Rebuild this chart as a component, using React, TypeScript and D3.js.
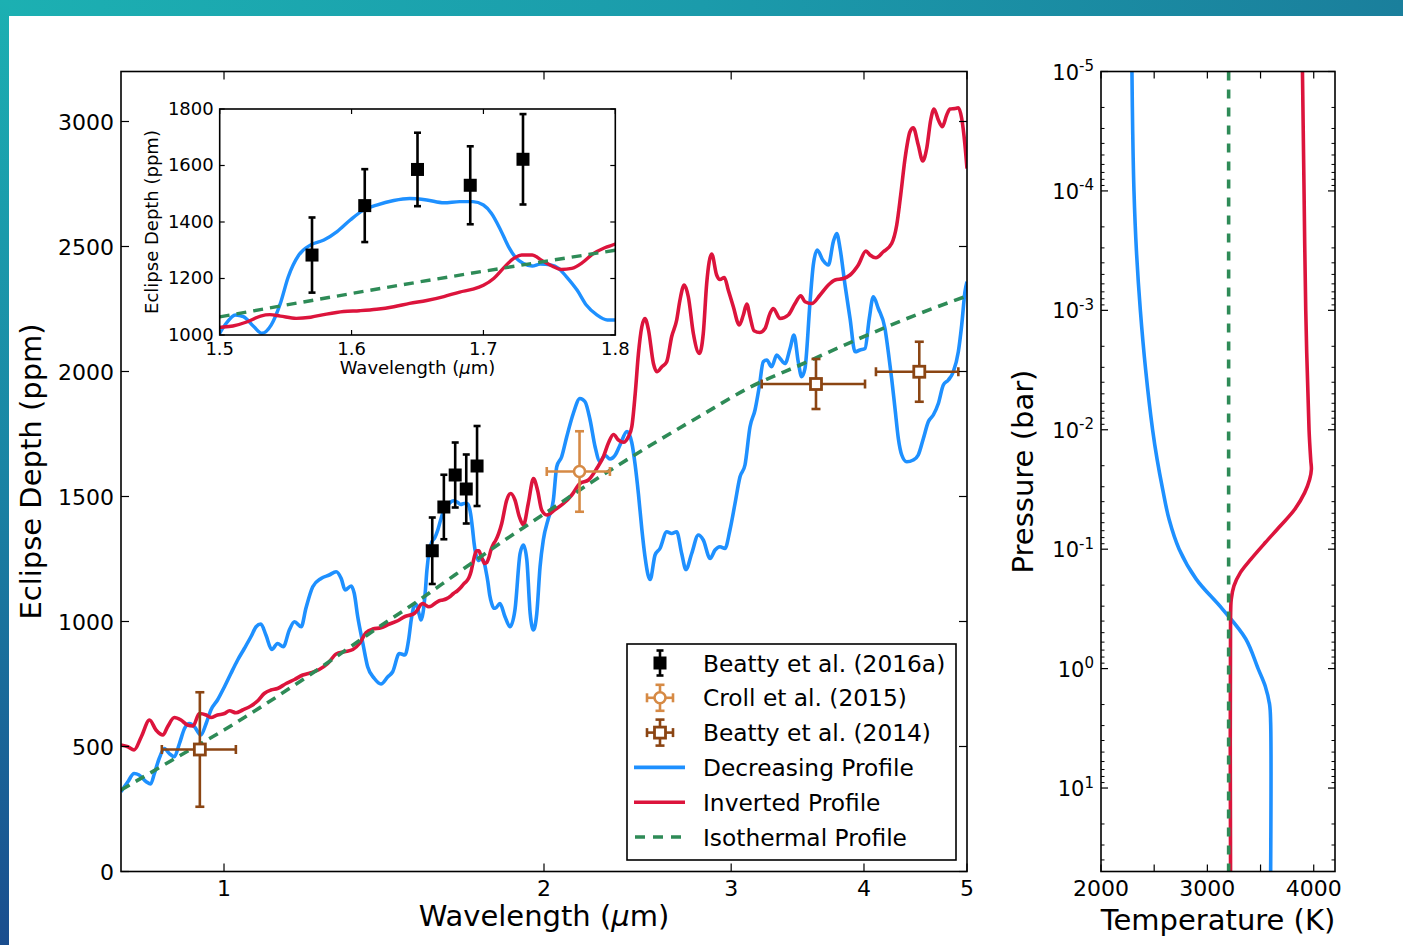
import React from "react";
import * as d3 from "d3";

type Pt = [number, number];

// Model emission spectra: [wavelength (µm), eclipse depth (ppm)]
const decreasingSpectrum: Pt[] = [
  [0.8, 319], [0.812, 359], [0.823, 392], [0.832, 386], [0.845, 359], [0.853, 350], [0.86, 392],
  [0.869, 452], [0.879, 492], [0.888, 472], [0.898, 459], [0.908, 512], [0.918, 572], [0.928, 592],
  [0.938, 579], [0.951, 546], [0.962, 592], [0.972, 646], [0.986, 686], [1.001, 739], [1.015, 792],
  [1.03, 846], [1.045, 892], [1.06, 939], [1.072, 979], [1.083, 990], [1.095, 946], [1.109, 888],
  [1.123, 912], [1.137, 899], [1.152, 966], [1.165, 999], [1.182, 979], [1.194, 1052], [1.212, 1139],
  [1.234, 1172], [1.256, 1186], [1.275, 1199], [1.289, 1172], [1.3, 1126], [1.317, 1142], [1.326, 1112],
  [1.336, 1019], [1.351, 912], [1.365, 819], [1.385, 772], [1.405, 750], [1.426, 779], [1.441, 799],
  [1.462, 872], [1.48, 866], [1.492, 930], [1.5, 1006], [1.504, 1035], [1.512, 1071], [1.518, 1065],
  [1.526, 1029], [1.532, 1006], [1.539, 1035], [1.546, 1112], [1.552, 1206], [1.56, 1283], [1.569, 1319],
  [1.579, 1336], [1.589, 1366], [1.599, 1407], [1.609, 1442], [1.619, 1460], [1.632, 1476], [1.644, 1483],
  [1.657, 1478], [1.67, 1468], [1.682, 1472], [1.692, 1472], [1.7, 1460], [1.706, 1431], [1.713, 1372],
  [1.719, 1313], [1.725, 1271], [1.73, 1254], [1.737, 1244], [1.743, 1251], [1.751, 1248], [1.757, 1236],
  [1.763, 1206], [1.771, 1159], [1.778, 1106], [1.786, 1071], [1.794, 1053], [1.8, 1053], [1.818, 1072],
  [1.838, 1019], [1.858, 979], [1.878, 1046], [1.899, 1272], [1.913, 1306], [1.927, 1246], [1.941, 1032],
  [1.955, 966], [1.969, 1032], [1.983, 1219], [1.997, 1326], [2.019, 1412], [2.041, 1486], [2.056, 1619],
  [2.078, 1659], [2.101, 1739], [2.131, 1832], [2.162, 1892], [2.186, 1879], [2.21, 1806], [2.234, 1699],
  [2.258, 1640], [2.283, 1665], [2.307, 1650], [2.333, 1665], [2.358, 1706], [2.394, 1760], [2.419, 1715],
  [2.436, 1630], [2.454, 1510], [2.472, 1370], [2.489, 1260], [2.506, 1185], [2.517, 1168], [2.544, 1266],
  [2.571, 1292], [2.609, 1359], [2.637, 1352], [2.666, 1359], [2.695, 1272], [2.72, 1208], [2.754, 1272],
  [2.794, 1346], [2.824, 1326], [2.866, 1252], [2.897, 1286], [2.928, 1299], [2.96, 1292], [2.992, 1366],
  [3.025, 1472], [3.058, 1579], [3.091, 1626], [3.125, 1779], [3.159, 1846], [3.188, 1939], [3.216, 2039],
  [3.24, 2046], [3.275, 2019], [3.311, 2066], [3.335, 2052], [3.371, 2032], [3.408, 2092], [3.437, 2146],
  [3.469, 2039], [3.495, 1979], [3.52, 2012], [3.559, 2279], [3.584, 2426], [3.615, 2486], [3.658, 2446],
  [3.703, 2426], [3.743, 2519], [3.771, 2552], [3.798, 2492], [3.839, 2346], [3.881, 2212], [3.923, 2079],
  [3.966, 2086], [4.009, 2092], [4.046, 2212], [4.082, 2299], [4.126, 2252], [4.186, 2172], [4.216, 2079],
  [4.247, 1972], [4.278, 1852], [4.309, 1732], [4.341, 1666], [4.388, 1639], [4.451, 1646], [4.499, 1666],
  [4.549, 1732], [4.598, 1799], [4.648, 1826], [4.699, 1872], [4.75, 1946], [4.802, 1966], [4.854, 1999],
  [4.907, 2079], [4.943, 2186], [4.978, 2319], [5.0, 2359],
];

const invertedSpectrum: Pt[] = [
  [0.8, 506], [0.812, 499], [0.823, 486], [0.836, 539], [0.851, 606], [0.863, 566], [0.876, 546],
  [0.885, 579], [0.898, 616], [0.911, 606], [0.924, 586], [0.935, 582], [0.948, 632], [0.962, 626],
  [0.972, 616], [0.986, 626], [1.001, 632], [1.012, 643], [1.026, 635], [1.041, 646], [1.06, 662],
  [1.076, 683], [1.091, 712], [1.107, 726], [1.123, 732], [1.144, 752], [1.165, 768], [1.186, 786],
  [1.207, 795], [1.229, 808], [1.252, 832], [1.275, 870], [1.298, 879], [1.322, 888], [1.341, 912],
  [1.36, 955], [1.38, 970], [1.405, 975], [1.431, 990], [1.457, 1003], [1.48, 1020], [1.5, 1027],
  [1.51, 1032], [1.521, 1047], [1.531, 1067], [1.538, 1072], [1.546, 1067], [1.558, 1059], [1.569, 1063],
  [1.581, 1074], [1.594, 1083], [1.606, 1086], [1.619, 1091], [1.632, 1100], [1.644, 1112], [1.657, 1122],
  [1.67, 1136], [1.682, 1152], [1.692, 1162], [1.7, 1176], [1.708, 1201], [1.715, 1236], [1.723, 1271],
  [1.729, 1283], [1.737, 1283], [1.744, 1265], [1.752, 1244], [1.759, 1232], [1.767, 1236], [1.775, 1256],
  [1.783, 1287], [1.792, 1309], [1.8, 1322], [1.825, 1392], [1.845, 1486], [1.861, 1512], [1.878, 1486],
  [1.896, 1419], [1.913, 1386], [1.933, 1472], [1.955, 1572], [1.972, 1526], [1.99, 1446], [2.012, 1426],
  [2.049, 1448], [2.086, 1472], [2.124, 1506], [2.162, 1552], [2.202, 1566], [2.242, 1612], [2.275, 1660],
  [2.3, 1715], [2.325, 1748], [2.35, 1726], [2.376, 1717], [2.401, 1739], [2.419, 1779], [2.437, 1912],
  [2.454, 2072], [2.472, 2179], [2.489, 2212], [2.508, 2166], [2.535, 2032], [2.554, 1999], [2.582, 2019],
  [2.609, 2039], [2.637, 2139], [2.666, 2206], [2.685, 2286], [2.71, 2346], [2.734, 2299], [2.764, 2152],
  [2.8, 2072], [2.824, 2152], [2.845, 2352], [2.876, 2470], [2.907, 2386], [2.928, 2368], [2.956, 2376],
  [2.981, 2326], [3.014, 2259], [3.053, 2186], [3.08, 2226], [3.103, 2270], [3.125, 2219], [3.152, 2163],
  [3.193, 2156], [3.228, 2172], [3.263, 2232], [3.287, 2252], [3.335, 2212], [3.395, 2226], [3.445, 2272],
  [3.488, 2303], [3.52, 2279], [3.572, 2272], [3.637, 2306], [3.703, 2346], [3.757, 2366], [3.825, 2372],
  [3.881, 2386], [3.951, 2426], [4.017, 2482], [4.052, 2466], [4.105, 2455], [4.171, 2479], [4.247, 2512],
  [4.294, 2586], [4.331, 2706], [4.372, 2852], [4.419, 2959], [4.451, 2975], [4.499, 2906], [4.543, 2842],
  [4.582, 2892], [4.622, 3006], [4.655, 3050], [4.699, 3006], [4.74, 2979], [4.785, 3026], [4.819, 3050],
  [4.872, 3052], [4.907, 3055], [4.943, 3012], [4.978, 2906], [5.0, 2812],
];

const isothermalSpectrum: Pt[] = [
  [0.8, 326], [0.9, 453], [1.0, 566], [1.2, 782], [1.4, 979], [1.5, 1064], [1.65, 1187], [1.8, 1300],
  [2.0, 1430], [2.258, 1579], [2.517, 1704], [2.8, 1820], [3.125, 1937], [3.5, 2030], [4.0, 2140],
  [4.5, 2230], [5.0, 2302],
];

// Observed eclipse depths
const beatty2016a = [
  { wl: 1.57, depth: 1283, err: 133 },
  { wl: 1.61, depth: 1458, err: 129 },
  { wl: 1.65, depth: 1586, err: 130 },
  { wl: 1.69, depth: 1530, err: 138 },
  { wl: 1.73, depth: 1622, err: 160 },
];
const croll2015 = [{ wl: 2.16, wlLo: 2.012, wlHi: 2.307, depth: 1600, err: 161 }];
const beatty2014 = [
  { wl: 0.949, wlLo: 0.874, wlHi: 1.026, depth: 488, err: 229 },
  { wl: 3.605, wlLo: 3.205, wlHi: 4.009, depth: 1950, err: 100 },
  { wl: 4.509, wlLo: 4.105, wlHi: 4.907, depth: 1999, err: 120 },
];

// Temperature-pressure profiles: [pressure (bar), temperature (K)]
const decreasingTP: Pt[] = [
  [1e-5, 2291], [3.16e-5, 2298], [1e-4, 2310], [3.16e-4, 2333], [1e-3, 2370], [3.16e-3, 2420],
  [1e-2, 2485], [0.0178, 2528], [0.0316, 2580], [0.0562, 2640], [0.1, 2735], [0.178, 2895],
  [0.316, 3140], [0.562, 3360], [1.0, 3477], [1.41, 3545], [2.0, 3585], [2.82, 3595], [50, 3595],
];
const invertedTP: Pt[] = [
  [1e-5, 3894], [1e-4, 3909], [1e-3, 3925], [1e-2, 3956], [0.018, 3972], [0.0214, 3978], [0.026, 3962],
  [0.0336, 3915], [0.0463, 3822], [0.064, 3685], [0.088, 3545], [0.121, 3410], [0.157, 3310],
  [0.203, 3250], [0.262, 3225], [0.385, 3218], [50, 3218],
];
const isothermalTP: Pt[] = [[1e-5, 3200], [50, 3200]];

// Axis ticks
const mainXTicks = [1, 2, 3, 4, 5];
const mainYTicks = [0, 500, 1000, 1500, 2000, 2500, 3000];
const insetXTicks = [1.5, 1.6, 1.7, 1.8];
const insetYTicks = [1000, 1200, 1400, 1600, 1800];
const tempTicks = [2000, 2500, 3000, 3500, 4000];
const tempLabels = [2000, 3000, 4000];
const pressureDecades = [-5, -4, -3, -2, -1, 0, 1];

const BLUE = "#1e90ff";
const RED = "#dc143c";
const GREEN = "#2e8b57";
const ORANGE = "#d68a45";
const BROWN = "#8b4513";
const FONT = "DejaVu Sans, Bitstream Vera Sans, sans-serif";

const MAIN = { left: 121, right: 967, top: 71.5, bottom: 871.5 };
const INSET = { left: 219.7, right: 615.3, top: 109, bottom: 335 };
const TP = { left: 1101, right: 1335, top: 71.5, bottom: 871.5 };

const xMain = d3.scaleLog().domain([0.8, 5]).range([MAIN.left, MAIN.right]);
const yMain = d3.scaleLinear().domain([0, 3200]).range([MAIN.bottom, MAIN.top]);
const xIn = d3.scaleLinear().domain([1.5, 1.8]).range([INSET.left, INSET.right]);
const yIn = d3.scaleLinear().domain([1000, 1800]).range([INSET.bottom, INSET.top]);
const xT = d3.scaleLinear().domain([2000, 4200]).range([TP.left, TP.right]);
const yP = d3.scaleLog().domain([1e-5, 50]).range([TP.top, TP.bottom]);

const mainLine = d3
  .line<Pt>()
  .x((d) => xMain(d[0]))
  .y((d) => yMain(d[1]))
  .curve(d3.curveMonotoneX);
const insetLine = d3
  .line<Pt>()
  .x((d) => xIn(d[0]))
  .y((d) => yIn(d[1]))
  .curve(d3.curveMonotoneX);
const tpLine = d3
  .line<Pt>()
  .x((d) => xT(d[1]))
  .y((d) => yP(d[0]))
  .curve(d3.curveCatmullRom.alpha(0.5));

const inInset = (s: Pt[]) => s.filter((d) => d[0] >= 1.47 && d[0] <= 1.83);

type Box = { left: number; right: number; top: number; bottom: number };

function Frame({ b }: { b: Box }) {
  return (
    <rect
      x={b.left}
      y={b.top}
      width={b.right - b.left}
      height={b.bottom - b.top}
      fill="none"
      stroke="#000"
      strokeWidth={1.6}
    />
  );
}

function XTicks({ b, xs, len, w = 1.2 }: { b: Box; xs: number[]; len: number; w?: number }) {
  return (
    <g stroke="#000" strokeWidth={w}>
      {xs.map((x, i) => (
        <g key={i}>
          <line x1={x} x2={x} y1={b.bottom} y2={b.bottom - len} />
          <line x1={x} x2={x} y1={b.top} y2={b.top + len} />
        </g>
      ))}
    </g>
  );
}

function YTicks({ b, ys, len, w = 1.2 }: { b: Box; ys: number[]; len: number; w?: number }) {
  return (
    <g stroke="#000" strokeWidth={w}>
      {ys.map((y, i) => (
        <g key={i}>
          <line x1={b.left} x2={b.left + len} y1={y} y2={y} />
          <line x1={b.right} x2={b.right - len} y1={y} y2={y} />
        </g>
      ))}
    </g>
  );
}

// Error bar glyph: optional horizontal and vertical bars with caps, plus a marker
function ErrorPoint({
  cx, cy, x0, x1, y0, y1, color, marker, cap = 4.5, lw = 2.6,
}: {
  cx: number; cy: number; x0?: number; x1?: number; y0: number; y1: number;
  color: string; marker: "filled" | "openSquare" | "openCircle"; cap?: number; lw?: number;
}) {
  return (
    <g stroke={color} strokeWidth={lw}>
      {x0 !== undefined && x1 !== undefined && (
        <>
          <line x1={x0} x2={x1} y1={cy} y2={cy} />
          <line x1={x0} x2={x0} y1={cy - cap} y2={cy + cap} />
          <line x1={x1} x2={x1} y1={cy - cap} y2={cy + cap} />
        </>
      )}
      <line x1={cx} x2={cx} y1={y0} y2={y1} />
      <line x1={cx - cap} x2={cx + cap} y1={y0} y2={y0} />
      <line x1={cx - cap} x2={cx + cap} y1={y1} y2={y1} />
      {marker === "filled" && (
        <rect x={cx - 6.5} y={cy - 6.5} width={13} height={13} fill={color} stroke="none" />
      )}
      {marker === "openSquare" && (
        <rect x={cx - 5.5} y={cy - 5.5} width={11} height={11} fill="#fff" strokeWidth={2.8} />
      )}
      {marker === "openCircle" && <circle cx={cx} cy={cy} r={5.5} fill="#fff" strokeWidth={2.6} />}
    </g>
  );
}

function PowerLabel({ x, y, exp }: { x: number; y: number; exp: number }) {
  return (
    <text x={x} y={y + 8} textAnchor="end" fontSize={21} fontFamily={FONT} fill="#000">
      <tspan>10</tspan>
      <tspan fontSize={15} dy={-8.5}>
        {exp < 0 ? `-${-exp}` : `${exp}`}
      </tspan>
    </text>
  );
}

export default function App() {
  const minorP: number[] = [];
  pressureDecades.forEach((e) => {
    for (let m = 2; m <= 9; m++) {
      const p = m * Math.pow(10, e);
      if (p < 50) minorP.push(p);
    }
  });

  const legendRows = [
    "Beatty et al. (2016a)",
    "Croll et al. (2015)",
    "Beatty et al. (2014)",
    "Decreasing Profile",
    "Inverted Profile",
    "Isothermal Profile",
  ];
  const LG = { left: 627, top: 644, right: 956, bottom: 860 };
  const rowY = (i: number) => 663 + i * 34.8;
  const hx = 660;

  return (
    <div style={{ position: "absolute", left: 0, top: 0, width: 1403, height: 945 }}>
      <svg width={1403} height={945} viewBox="0 0 1403 945" xmlns="http://www.w3.org/2000/svg">
        <defs>
          <linearGradient id="bandTop" x1="0" x2="1" y1="0" y2="0">
            <stop offset="0" stopColor="#1cb0b2" />
            <stop offset="0.5" stopColor="#1b9bab" />
            <stop offset="1" stopColor="#1a7f9c" />
          </linearGradient>
          <linearGradient id="bandLeft" x1="0" x2="0" y1="0" y2="1">
            <stop offset="0" stopColor="#1cb0b2" />
            <stop offset="0.5" stopColor="#1a84a4" />
            <stop offset="1" stopColor="#1a4d8e" />
          </linearGradient>
          <clipPath id="clipMain">
            <rect x={MAIN.left} y={MAIN.top} width={MAIN.right - MAIN.left} height={MAIN.bottom - MAIN.top} />
          </clipPath>
          <clipPath id="clipInset">
            <rect x={INSET.left} y={INSET.top} width={INSET.right - INSET.left} height={INSET.bottom - INSET.top} />
          </clipPath>
          <clipPath id="clipTP">
            <rect x={TP.left} y={TP.top} width={TP.right - TP.left} height={TP.bottom - TP.top} />
          </clipPath>
        </defs>

        <rect x={0} y={0} width={1403} height={945} fill="#fff" />
        <rect x={0} y={0} width={1403} height={16} fill="url(#bandTop)" />
        <rect x={0} y={0} width={9} height={945} fill="url(#bandLeft)" />

        {/* ---------- Emission spectrum ---------- */}
        <g clipPath="url(#clipMain)" fill="none" strokeLinejoin="round">
          <path d={mainLine(decreasingSpectrum) ?? ""} stroke={BLUE} strokeWidth={3.6} />
          <path d={mainLine(invertedSpectrum) ?? ""} stroke={RED} strokeWidth={3.6} />
          <path
            d={mainLine(isothermalSpectrum) ?? ""}
            stroke={GREEN}
            strokeWidth={3.6}
            strokeDasharray="10 7"
          />
        </g>

        {beatty2014.map((d, i) => (
          <ErrorPoint
            key={`b14-${i}`}
            cx={xMain(d.wl)}
            cy={yMain(d.depth)}
            x0={xMain(d.wlLo)}
            x1={xMain(d.wlHi)}
            y0={yMain(d.depth + d.err)}
            y1={yMain(d.depth - d.err)}
            color={BROWN}
            marker="openSquare"
          />
        ))}
        {croll2015.map((d, i) => (
          <ErrorPoint
            key={`c15-${i}`}
            cx={xMain(d.wl)}
            cy={yMain(d.depth)}
            x0={xMain(d.wlLo)}
            x1={xMain(d.wlHi)}
            y0={yMain(d.depth + d.err)}
            y1={yMain(d.depth - d.err)}
            color={ORANGE}
            marker="openCircle"
          />
        ))}
        {beatty2016a.map((d, i) => (
          <ErrorPoint
            key={`b16-${i}`}
            cx={xMain(d.wl)}
            cy={yMain(d.depth)}
            y0={yMain(d.depth + d.err)}
            y1={yMain(d.depth - d.err)}
            color="#000"
            marker="filled"
            cap={3.5}
          />
        ))}

        <XTicks b={MAIN} xs={mainXTicks.map((t) => xMain(t))} len={8} />
        <YTicks b={MAIN} ys={mainYTicks.map((t) => yMain(t))} len={8} />
        <Frame b={MAIN} />

        <g fontFamily={FONT} fontSize={22} fill="#000">
          {mainXTicks.map((t) => (
            <text key={t} x={xMain(t)} y={MAIN.bottom + 24} textAnchor="middle">
              {t}
            </text>
          ))}
          {mainYTicks.map((t) => (
            <text key={t} x={MAIN.left - 7} y={yMain(t) + 8} textAnchor="end">
              {t}
            </text>
          ))}
        </g>
        <text
          x={(MAIN.left + MAIN.right) / 2}
          y={926}
          textAnchor="middle"
          fontFamily={FONT}
          fontSize={29}
          fill="#000"
        >
          Wavelength (<tspan fontStyle="italic">μ</tspan>m)
        </text>
        <text
          transform={`translate(41, ${(MAIN.top + MAIN.bottom) / 2}) rotate(-90)`}
          textAnchor="middle"
          fontFamily={FONT}
          fontSize={29}
          fill="#000"
        >
          Eclipse Depth (ppm)
        </text>

        {/* ---------- Inset: zoom on 1.5–1.8 µm ---------- */}
        <rect
          x={INSET.left}
          y={INSET.top}
          width={INSET.right - INSET.left}
          height={INSET.bottom - INSET.top}
          fill="#fff"
        />
        <g clipPath="url(#clipInset)" fill="none" strokeLinejoin="round">
          <path d={insetLine(inInset(decreasingSpectrum)) ?? ""} stroke={BLUE} strokeWidth={3.4} />
          <path d={insetLine(inInset(invertedSpectrum)) ?? ""} stroke={RED} strokeWidth={3.4} />
          <path
            d={insetLine(inInset(isothermalSpectrum)) ?? ""}
            stroke={GREEN}
            strokeWidth={3.4}
            strokeDasharray="10 7"
          />
        </g>
        {beatty2016a.map((d, i) => (
          <ErrorPoint
            key={`ib16-${i}`}
            cx={xIn(d.wl)}
            cy={yIn(d.depth)}
            y0={yIn(d.depth + d.err)}
            y1={yIn(d.depth - d.err)}
            color="#000"
            marker="filled"
            cap={3.5}
          />
        ))}
        <XTicks b={INSET} xs={insetXTicks.map((t) => xIn(t))} len={5} />
        <YTicks b={INSET} ys={insetYTicks.map((t) => yIn(t))} len={5} />
        <Frame b={INSET} />
        <g fontFamily={FONT} fontSize={18} fill="#000">
          {insetXTicks.map((t) => (
            <text key={t} x={xIn(t)} y={INSET.bottom + 20} textAnchor="middle">
              {t.toFixed(1)}
            </text>
          ))}
          {insetYTicks.map((t) => (
            <text key={t} x={INSET.left - 6} y={yIn(t) + 5.5} textAnchor="end">
              {t}
            </text>
          ))}
          <text x={(INSET.left + INSET.right) / 2} y={374} textAnchor="middle">
            Wavelength (<tspan fontStyle="italic">μ</tspan>m)
          </text>
          <text
            transform={`translate(158, ${(INSET.top + INSET.bottom) / 2}) rotate(-90)`}
            textAnchor="middle"
          >
            Eclipse Depth (ppm)
          </text>
        </g>

        {/* ---------- Legend ---------- */}
        <rect
          x={LG.left}
          y={LG.top}
          width={LG.right - LG.left}
          height={LG.bottom - LG.top}
          fill="#fff"
          stroke="#000"
          strokeWidth={1.6}
        />
        <ErrorPoint cx={hx} cy={rowY(0)} y0={rowY(0) - 12.5} y1={rowY(0) + 12.5} color="#000" marker="filled" cap={3.5} />
        <ErrorPoint
          cx={hx}
          cy={rowY(1)}
          x0={hx - 13}
          x1={hx + 13}
          y0={rowY(1) - 13}
          y1={rowY(1) + 13}
          color={ORANGE}
          marker="openCircle"
        />
        <ErrorPoint
          cx={hx}
          cy={rowY(2)}
          x0={hx - 13}
          x1={hx + 13}
          y0={rowY(2) - 13}
          y1={rowY(2) + 13}
          color={BROWN}
          marker="openSquare"
        />
        <line x1={634} x2={685} y1={rowY(3)} y2={rowY(3)} stroke={BLUE} strokeWidth={3.6} />
        <line x1={634} x2={685} y1={rowY(4)} y2={rowY(4)} stroke={RED} strokeWidth={3.6} />
        <line
          x1={635}
          x2={685}
          y1={rowY(5)}
          y2={rowY(5)}
          stroke={GREEN}
          strokeWidth={3.6}
          strokeDasharray="10 8"
        />
        <g fontFamily={FONT} fontSize={23.3} fill="#000">
          {legendRows.map((t, i) => (
            <text key={t} x={703} y={rowY(i) + 8.5}>
              {t}
            </text>
          ))}
        </g>

        {/* ---------- Temperature–pressure profiles ---------- */}
        <g clipPath="url(#clipTP)" fill="none">
          <path d={tpLine(decreasingTP) ?? ""} stroke={BLUE} strokeWidth={3.6} />
          <path d={tpLine(invertedTP) ?? ""} stroke={RED} strokeWidth={3.6} />
          <path d={tpLine(isothermalTP) ?? ""} stroke={GREEN} strokeWidth={3.6} strokeDasharray="9 9" />
        </g>
        <XTicks b={TP} xs={tempTicks.map((t) => xT(t))} len={7} />
        <YTicks b={TP} ys={pressureDecades.map((e) => yP(Math.pow(10, e)))} len={7} />
        <YTicks b={TP} ys={minorP.map((p) => yP(p))} len={3.5} w={1} />
        <Frame b={TP} />
        <g fontFamily={FONT} fontSize={22} fill="#000">
          {tempLabels.map((t) => (
            <text key={t} x={xT(t)} y={TP.bottom + 24} textAnchor="middle">
              {t}
            </text>
          ))}
        </g>
        {pressureDecades.map((e) => (
          <PowerLabel key={e} x={TP.left - 7} y={yP(Math.pow(10, e))} exp={e} />
        ))}
        <text
          x={(TP.left + TP.right) / 2}
          y={930}
          textAnchor="middle"
          fontFamily={FONT}
          fontSize={29}
          fill="#000"
        >
          Temperature (K)
        </text>
        <text
          transform={`translate(1033, ${(TP.top + TP.bottom) / 2}) rotate(-90)`}
          textAnchor="middle"
          fontFamily={FONT}
          fontSize={29}
          fill="#000"
        >
          Pressure (bar)
        </text>
      </svg>
    </div>
  );
}
